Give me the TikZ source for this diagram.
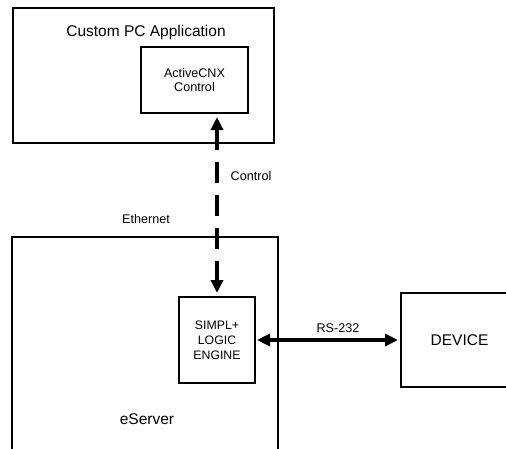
\documentclass[tikz,border=0pt]{standalone}
\usepackage{fontspec}
\setmainfont{Liberation Sans}
\usetikzlibrary{arrows.meta}
\begin{document}
\begin{tikzpicture}[x=1pt,y=-1pt,
  box/.style={draw,line width=2.5pt,inner sep=0pt,outer sep=0pt,align=center},
  bigtxt/.style={font=\fontsize{15.5}{18}\selectfont},
  smalltxt/.style={font=\fontsize{12.6}{14.5}\selectfont},
  lbl/.style={inner sep=0pt,anchor=base},
  conn/.style={line width=3.5pt,{Triangle[length=13pt,width=12pt]}-{Triangle[length=13pt,width=12pt]}}]
\useasboundingbox (0,0) rectangle (506,448);
\clip (0,0) rectangle (506,448);
\fill[white] (0,0) rectangle (506,448);
% boxes
\node[box,minimum width=261pt,minimum height=135pt] (pc) at (143.5,75.5) {};
\node[box,smalltxt,minimum width=107pt,minimum height=66pt] (acx) at (194.5,80) {ActiveCNX\\Control};
\node[box,minimum width=266pt,minimum height=233pt] (es) at (145,353.5) {};
\node[box,smalltxt,minimum width=76pt,minimum height=86pt,font=\fontsize{12.3}{15}\selectfont] (sim) at (217,340) {SIMPL+\\LOGIC\\ENGINE};
\node[box,bigtxt,minimum width=117pt,minimum height=94pt] (dev) at (459.5,340) {DEVICE};
% labels
\node[lbl,bigtxt] (pclbl) at (146,36) {Custom PC Application};
\node[lbl,bigtxt] (eslbl) at (147,424) {eServer};
\node[lbl,smalltxt] (ctl) at (251,180) {Control};
\node[lbl,smalltxt] (eth) at (146,223) {Ethernet};
\node[lbl,smalltxt] (rs) at (338,332) {RS-232};
% connectors
\draw[conn,dash pattern=on 21pt off 12pt,shorten <=4pt,shorten >=4pt] (acx.south -| sim.north) -- (sim.north);
\draw[conn,shorten <=2pt,shorten >=3pt] (sim.east) -- (dev.west);
\end{tikzpicture}
\end{document}
